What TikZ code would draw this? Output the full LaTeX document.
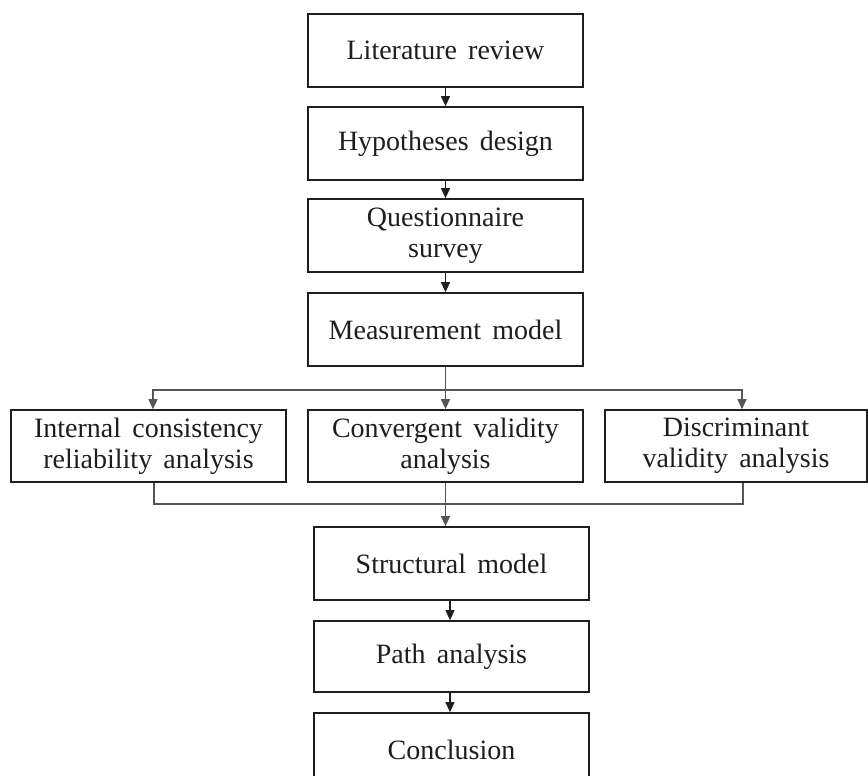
\documentclass[tikz,border=0pt]{standalone}
\usepackage{fontspec}
\setmainfont[WordSpace=1.6]{Liberation Serif}
\usetikzlibrary{arrows.meta, positioning, calc}
\definecolor{inkblk}{HTML}{1E1E1E}
\definecolor{linegray}{HTML}{555555}

\begin{document}
\begin{tikzpicture}[
  x=1pt, y=-1pt,
  >={Triangle[length=10pt, width=9pt]},
  stagebox/.style={
    draw=inkblk, line width=1.7pt, fill=white,
    minimum width=#1, minimum height=73pt, inner sep=2pt,
    font=\fontsize{28}{31}\selectfont, text=inkblk, align=center
  },
  stagebox/.default=275pt,
  conn/.style={draw=linegray, line width=1.1pt},
]

% Background
\fill[white] (0,0) rectangle (868,776);
\useasboundingbox (0,0) rectangle (868,776);

% =============================================
% Upper chain
% =============================================
\node[stagebox] (lit) at (445.5,50.5) {Literature review};
\node[stagebox] (hyp) at (445.5,143.5) {Hypotheses design};
\node[stagebox] (quest) at (445.5,235.5) {Questionnaire\\survey};
\node[stagebox] (meas) at (445.5,329.5) {Measurement model};

% =============================================
% Measurement checks (three in a row)
% =============================================
\node[stagebox, minimum height=72pt] (icr) at (148.5,446)
  {Internal consistency\\reliability analysis};
\node[stagebox, minimum height=72pt] (conv) at (445.5,446)
  {Convergent validity\\analysis};
\node[stagebox=262pt, minimum height=72pt] (disc) at (736,446)
  {Discriminant\\validity analysis};

% =============================================
% Lower chain
% =============================================
\node[stagebox] (struct) at (451.5,563.5) {Structural model};
\node[stagebox, minimum height=71pt] (path) at (451.5,656.5) {Path analysis};
\node[stagebox] (concl) at (451.5,749.5) {Conclusion};

% split / join points
\coordinate (split) at (445.5,390);
\coordinate (join) at (445.5,504);

% =============================================
% Arrows
% =============================================
\draw[conn, ->, draw=inkblk] (lit) -- (hyp);
\draw[conn, ->, draw=inkblk] (hyp) -- (quest);
\draw[conn, ->, draw=inkblk] (quest) -- (meas);

% Measurement model -> three checks
\draw[conn, ->] (meas) -- (conv);
\draw[conn, ->] (split) -| ([xshift=4.5pt]icr.north);
\draw[conn, ->] (split) -| ([xshift=6pt]disc.north);

% three checks -> structural model
\draw[conn] ([xshift=5.5pt]icr.south) |- (join) -| ([xshift=7pt]disc.south);
\draw[conn, ->] (conv.south) -- (conv.south |- struct.north);

\draw[conn, ->, draw=inkblk] ([xshift=-1.5pt]struct.south) -- ([xshift=-1.5pt]path.north);
\draw[conn, ->, draw=inkblk] ([xshift=-1.5pt]path.south) -- ([xshift=-1.5pt]concl.north);

\end{tikzpicture}
\end{document}
